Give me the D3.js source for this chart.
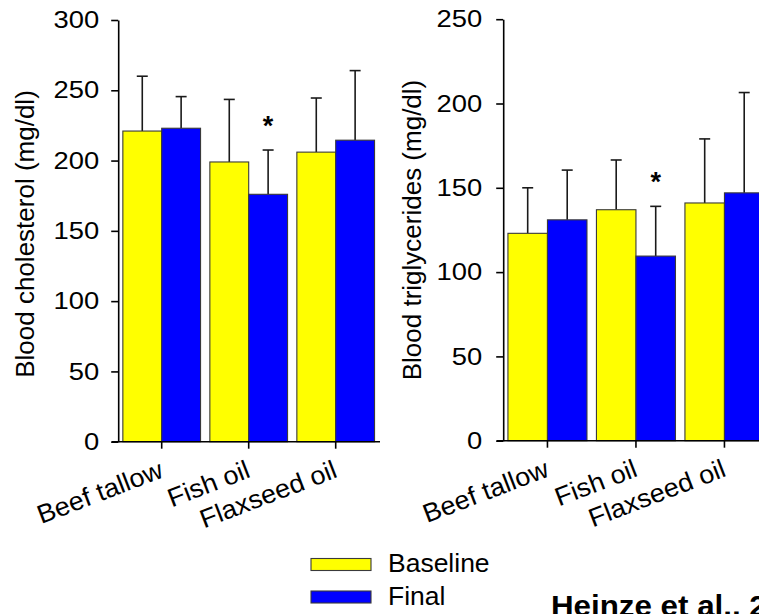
<!DOCTYPE html>
<html>
<head>
<meta charset="utf-8">
<script src="https://cdn.jsdelivr.net/npm/d3@7"></script>
<style>
  html, body { margin: 0; padding: 0; background: #fff; overflow: hidden; }
  svg { display: block; font-family: Arial, "Liberation Sans", Helvetica, sans-serif; }
</style>
</head>
<body>
<svg id="chart" width="759" height="614"></svg>
<script>
// ---- data ----
const categories = ["Beef tallow", "Fish oil", "Flaxseed oil"];
const seriesNames = ["Baseline", "Final"];
const seriesColors = ["#FFFF00", "#0000FF"];

const cholBaseline = [221, 199, 206];
const cholBaselineErr = [39, 44.5, 38.5];
const cholFinal = [223, 176, 214.5];
const cholFinalErr = [22.5, 31.5, 49.5];
const cholTicks = [0, 50, 100, 150, 200, 250, 300];
const cholSig = [false, true, false];

const trigBaseline = [123, 137, 141];
const trigBaselineErr = [27, 29.5, 38];
const trigFinal = [131, 109.5, 147];
const trigFinalErr = [29.5, 29.5, 59.5];
const trigTicks = [0, 50, 100, 150, 200, 250];
const trigSig = [false, true, false];

const svg = d3.select("#chart");

function panel(opt) {
  const g = svg.append("g");
  const y = d3.scaleLinear().domain([0, opt.max]).range([opt.y0, opt.y1]);
  const x = d3.scaleBand().domain(categories)
    .range([opt.x0, opt.x0 + 3 * opt.step]).paddingInner(0.107).paddingOuter(0.0535);
  const xs = d3.scaleBand().domain(seriesNames).range([0, x.bandwidth()]);

  const series = [
    { name: "Baseline", vals: opt.base, errs: opt.baseErr, color: seriesColors[0] },
    { name: "Final", vals: opt.fin, errs: opt.finErr, color: seriesColors[1] }
  ];

  // error bars (upper only)
  series.forEach(s => {
    categories.forEach((c, i) => {
      const cx = x(c) + xs(s.name) + xs.bandwidth() / 2;
      const top = y(s.vals[i] + s.errs[i]);
      g.append("line").attr("x1", cx).attr("x2", cx)
        .attr("y1", y(s.vals[i])).attr("y2", top)
        .attr("stroke", "#1a1a1a").attr("stroke-width", 1.6);
      g.append("line").attr("x1", cx - 5.5).attr("x2", cx + 5.5)
        .attr("y1", top).attr("y2", top)
        .attr("stroke", "#1a1a1a").attr("stroke-width", 1.6);
    });
  });

  // bars
  series.forEach(s => {
    g.selectAll(null).data(categories).enter().append("rect")
      .attr("x", c => x(c) + xs(s.name))
      .attr("y", (c, i) => y(s.vals[i]))
      .attr("width", xs.bandwidth())
      .attr("height", (c, i) => y(0) - y(s.vals[i]))
      .attr("fill", s.color)
      .attr("stroke", "#3a3a3a").attr("stroke-width", 1.1);
  });

  // significance asterisks
  categories.forEach((c, i) => {
    if (opt.sig[i]) {
      const cx = x(c) + xs("Final") + xs.bandwidth() / 2;
      g.append("text").attr("x", cx).attr("y", y(opt.fin[i] + opt.finErr[i]) - 15)
        .attr("text-anchor", "middle").attr("font-size", 27).attr("font-weight", "bold")
        .attr("fill", "#000").text("*");
    }
  });

  // y axis
  const yAxis = d3.axisLeft(y).tickValues(opt.ticks).tickSize(7).tickPadding(opt.tpad).tickSizeOuter(0);
  const ya = g.append("g").attr("transform", `translate(${opt.x0},0)`).call(yAxis);
  ya.select(".domain").attr("stroke", "#000").attr("stroke-width", 1.6);
  ya.selectAll(".tick line").attr("stroke", "#000").attr("stroke-width", 1.6);
  ya.selectAll(".tick text").attr("font-size", 24).attr("fill", "#000")
    .attr("font-family", "Arial, 'Liberation Sans', sans-serif")
    .attr("transform", "scale(1.14,1)")
    .attr("x", -(7 + opt.tpad) / 1.14);

  // x axis
  const xAxis = d3.axisBottom(x).tickSize(7).tickSizeOuter(0).tickFormat("");
  const xa = g.append("g").attr("transform", `translate(0,${opt.y0})`).call(xAxis);
  xa.select(".domain").attr("d", `M${opt.x0 - 6.5},0H${opt.xEnd}`)
    .attr("stroke", "#000").attr("stroke-width", 1.6);
  xa.selectAll(".tick line").attr("stroke", "#000").attr("stroke-width", 1.6);

  // x labels (rotated)
  categories.forEach(c => {
    const cx = x(c) + x.bandwidth() / 2;
    g.append("text")
      .attr("transform", `translate(${cx + 3},${opt.y0 + 35}) rotate(-21) scale(1.04,1)`)
      .attr("text-anchor", "end").attr("font-size", 26).attr("fill", "#000")
      .text(c);
  });

  // y title
  g.append("text")
    .attr("transform", `translate(${opt.titleX},${opt.titleY}) rotate(-90)`)
    .attr("text-anchor", "middle").attr("font-size", 26).attr("fill", "#000")
    .text(opt.title);
}

panel({
  base: cholBaseline, baseErr: cholBaselineErr, fin: cholFinal, finErr: cholFinalErr,
  max: 300, ticks: cholTicks, sig: cholSig,
  y0: 441.7, y1: 20, x0: 118.2, step: 87, xEnd: 380, tpad: 12,
  title: "Blood cholesterol (mg/dl)", titleX: 34, titleY: 234
});

panel({
  base: trigBaseline, baseErr: trigBaselineErr, fin: trigFinal, finErr: trigFinalErr,
  max: 250, ticks: trigTicks, sig: trigSig,
  y0: 440.7, y1: 19.2, x0: 503.2, step: 88.5, xEnd: 780, tpad: 14,
  title: "Blood triglycerides (mg/dl)", titleX: 421, titleY: 230
});

// legend
const leg = svg.append("g");
seriesNames.forEach((n, i) => {
  const yy = 558.5 + i * 32.5;
  leg.append("rect").attr("x", 311).attr("y", yy).attr("width", 60).attr("height", 12)
    .attr("fill", seriesColors[i]).attr("stroke", "#3a3a3a").attr("stroke-width", 1.1);
  leg.append("text").attr("x", 388 / 1.06).attr("y", yy + 14)
    .attr("font-size", 25).attr("fill", "#000")
    .attr("transform", "scale(1.06,1)")
    .text(n);
});

// citation
svg.append("text").attr("x", 551 / 1.08).attr("y", 616)
  .attr("font-size", 29).attr("font-weight", "bold").attr("fill", "#000")
  .attr("transform", "scale(1.08,1)")
  .text("Heinze et al., 2012");
</script>
</body>
</html>
